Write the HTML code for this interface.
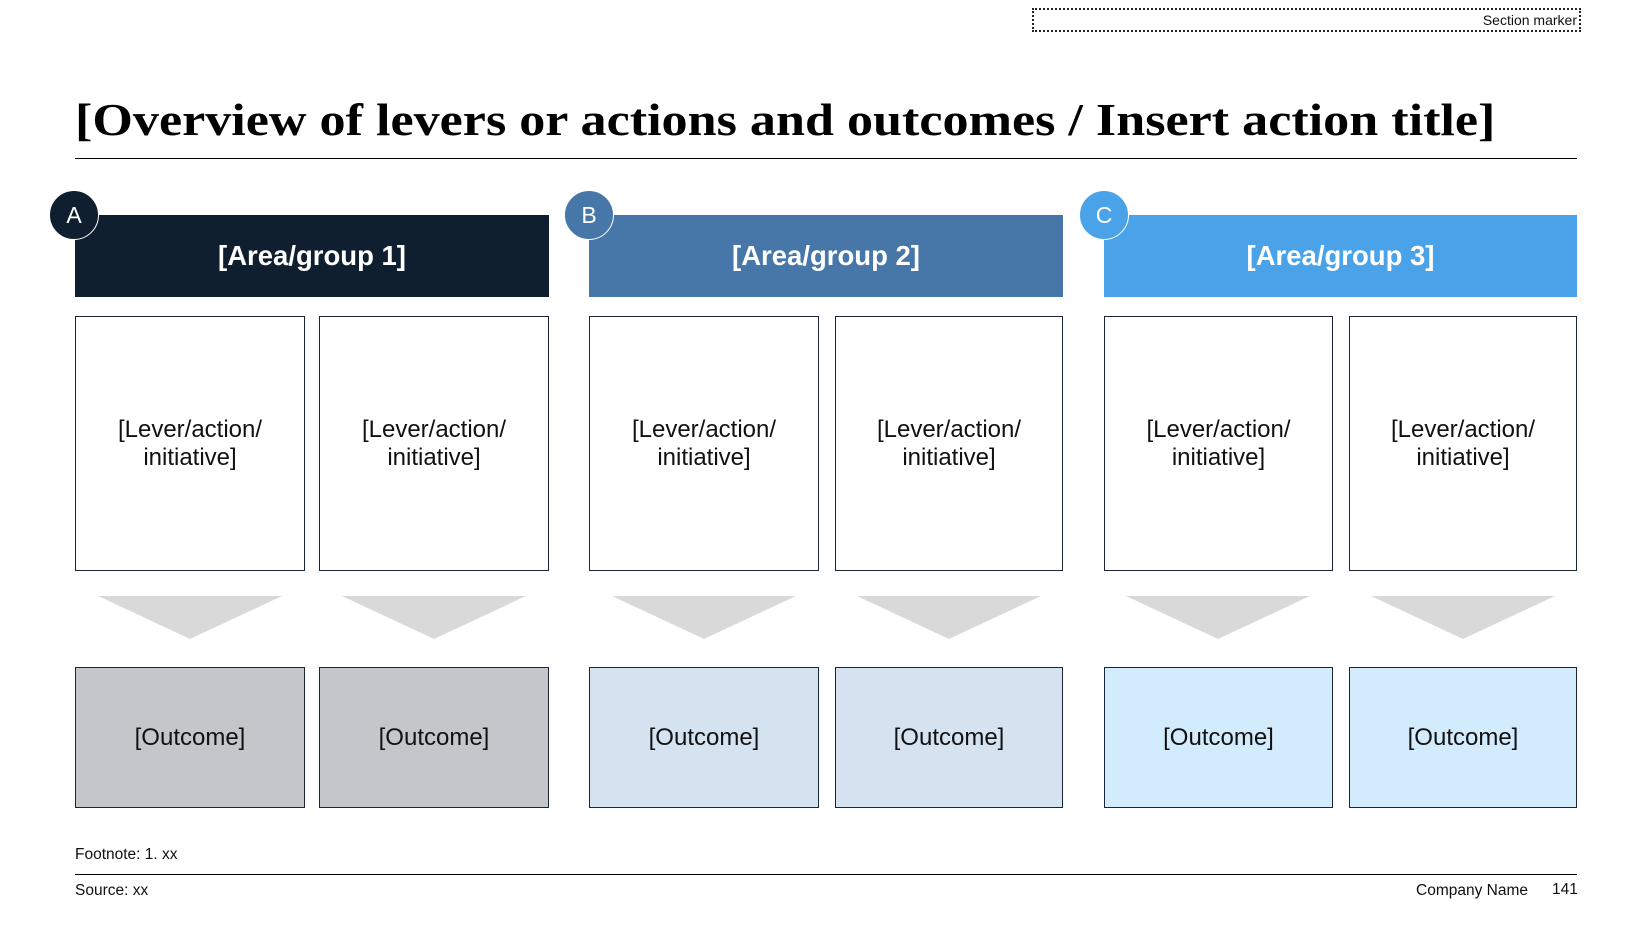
<!DOCTYPE html>
<html><head><meta charset="utf-8"><style>
*{margin:0;padding:0;box-sizing:border-box}
body{width:1652px;height:926px;background:#fff;position:relative;overflow:hidden;font-family:"Liberation Sans",Arial,sans-serif;color:#111}
.a{position:absolute}
.marker{left:1032px;top:8px;width:549px;height:24px;border:2px dotted #222;font-size:14px;text-align:right;padding-right:2px;line-height:21px}
.title{left:75px;top:93px;font-family:"Liberation Serif",serif;font-weight:bold;font-size:46px;white-space:nowrap;color:#000;transform:scaleX(1.133);transform-origin:left top}
.rule{left:75px;width:1502px;height:1px;background:#000}
.hdr{top:215px;height:82px;color:#fff;font-weight:bold;font-size:27.5px;display:flex;align-items:center;justify-content:center}
.circ{width:50px;height:50px;border-radius:50%;border:1.5px solid #fff;color:#fff;font-size:23px;display:flex;align-items:center;justify-content:center;top:190px}
.lev{top:316px;height:255px;border:1px solid #1a2535;background:#fff;font-size:24px;display:flex;align-items:center;justify-content:center;text-align:center;line-height:28px}
.out{top:667px;height:141px;border:1px solid #1a2535;font-size:24px;display:flex;align-items:center;justify-content:center}
.tri{top:596px;width:0;height:0;border-top:43px solid #d9d9d9}
.sm{font-size:15.5px}
</style></head><body>
<div class="a marker">Section marker</div>
<div class="a title">[Overview of levers or actions and outcomes / Insert action title]</div>
<div class="a rule" style="top:158px"></div>

<div class="a hdr" style="left:75px;width:474px;background:#0f1f30">[Area/group 1]</div>
<div class="a hdr" style="left:589px;width:474px;background:#4677a8">[Area/group 2]</div>
<div class="a hdr" style="left:1104px;width:473px;background:#4aa3e8">[Area/group 3]</div>
<div class="a circ" style="left:49px;background:#0f1f30">A</div>
<div class="a circ" style="left:564px;background:#4677a8">B</div>
<div class="a circ" style="left:1079px;background:#4aa3e8">C</div>

<div class="a lev" style="left:75px;width:230px">[Lever/action/<br>initiative]</div>
<div class="a lev" style="left:319px;width:230px">[Lever/action/<br>initiative]</div>
<div class="a lev" style="left:589px;width:230px">[Lever/action/<br>initiative]</div>
<div class="a lev" style="left:835px;width:228px">[Lever/action/<br>initiative]</div>
<div class="a lev" style="left:1104px;width:229px">[Lever/action/<br>initiative]</div>
<div class="a lev" style="left:1349px;width:228px">[Lever/action/<br>initiative]</div>

<div class="a tri" style="left:98px;border-left:92px solid transparent;border-right:92px solid transparent"></div>
<div class="a tri" style="left:342px;border-left:92px solid transparent;border-right:92px solid transparent"></div>
<div class="a tri" style="left:612px;border-left:92px solid transparent;border-right:92px solid transparent"></div>
<div class="a tri" style="left:857px;border-left:92px solid transparent;border-right:92px solid transparent"></div>
<div class="a tri" style="left:1126px;border-left:92px solid transparent;border-right:92px solid transparent"></div>
<div class="a tri" style="left:1371px;border-left:92px solid transparent;border-right:92px solid transparent"></div>

<div class="a out" style="left:75px;width:230px;background:#c3c7cc">[Outcome]</div>
<div class="a out" style="left:319px;width:230px;background:#c3c7cc">[Outcome]</div>
<div class="a out" style="left:589px;width:230px;background:#d5e3f0">[Outcome]</div>
<div class="a out" style="left:835px;width:228px;background:#d5e3f0">[Outcome]</div>
<div class="a out" style="left:1104px;width:229px;background:#d2ecfd">[Outcome]</div>
<div class="a out" style="left:1349px;width:228px;background:#d2ecfd">[Outcome]</div>

<div class="a sm" style="left:75px;top:846px">Footnote: 1. xx</div>
<div class="a rule" style="top:874px"></div>
<div class="a sm" style="left:75px;top:882px">Source: xx</div>
<div class="a sm" style="left:1416px;top:882px">Company Name</div>
<div class="a sm" style="left:1552px;top:881px">141</div>
</body></html>
